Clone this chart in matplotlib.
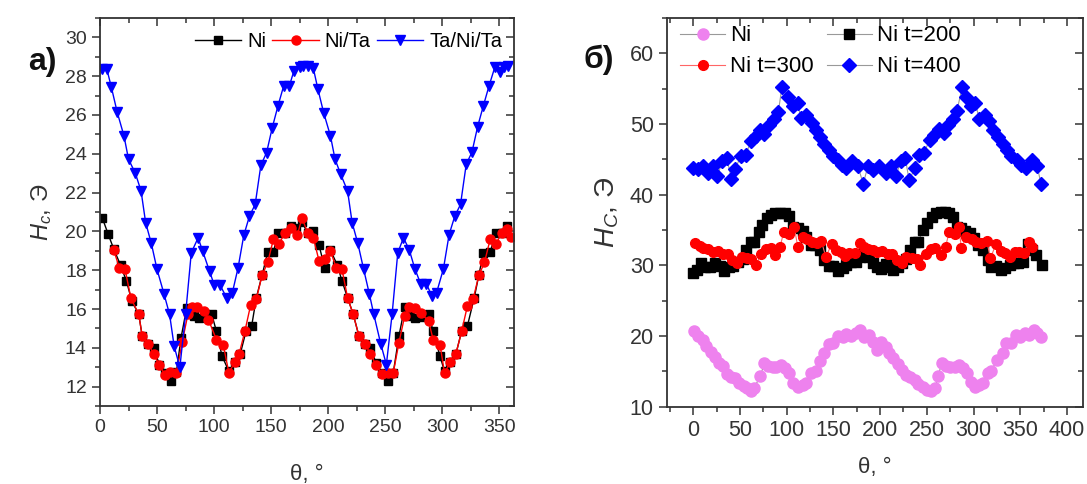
import matplotlib
matplotlib.use('Agg')
import matplotlib.pyplot as plt
from matplotlib.ticker import MultipleLocator

plt.rcParams['font.family'] = ['Liberation Sans', 'DejaVu Sans']
plt.rcParams['mathtext.fontset'] = 'custom'
plt.rcParams['mathtext.rm'] = 'Liberation Sans'
plt.rcParams['mathtext.it'] = 'Liberation Sans:italic'

# panel a) - Hc(theta) for three films
ni_x = [2, 7, 12, 18, 23, 28, 34, 37, 42, 47, 52, 57, 62, 67, 71, 76, 82, 87, 92, 98,
        102, 107, 113, 118, 123, 128, 133, 137, 142, 147, 152, 156, 162, 167, 172, 177,
        182, 187, 192, 197, 202, 208, 212, 217, 222, 227, 232, 237, 242, 247, 252, 257,
        262, 267, 272, 276, 282, 288, 292, 298, 302, 307, 312, 317, 322, 328, 332, 336,
        342, 347, 352, 357]
ni_y = [20.7, 19.88, 19.1, 18.26, 17.47, 16.4, 15.72, 14.6, 14.22, 14.0, 13.14, 12.7,
        12.31, 12.75, 14.51, 16.06, 15.63, 15.55, 15.75, 15.72, 14.86, 13.57, 12.79,
        13.26, 13.7, 14.86, 15.15, 16.58, 17.73, 18.93, 18.93, 19.93, 19.93, 20.28,
        20.19, 20.5, 19.9, 20.02, 19.28, 18.12, 19.04, 18.26, 17.47, 16.58, 15.72, 14.6,
        14.22, 14.0, 13.23, 12.7, 12.31, 12.7, 14.6, 16.1, 15.63, 15.55, 15.6, 15.72,
        14.86, 13.57, 12.79, 13.26, 13.7, 14.86, 15.12, 16.58, 17.73, 18.9, 18.93,
        19.93, 19.93, 20.28]

nita_x = [12, 17, 22, 27, 34, 37, 42, 47, 52, 57, 61, 67, 72, 77, 81, 85, 91, 95, 102,
          108, 113, 118, 122, 127, 132, 137, 142, 147, 152, 157, 162, 167, 173, 177, 182,
          187, 192, 197, 202, 207, 212, 217, 222, 227, 232, 237, 242, 247, 252, 257, 262,
          267, 271, 276, 281, 288, 292, 298, 302, 307, 312, 317, 322, 327, 332, 337, 342,
          347, 352, 357, 360]
nita_y = [19.04, 18.12, 18.04, 16.58, 15.72, 14.6, 14.22, 13.7, 13.1, 12.62, 12.74, 12.7,
          14.28, 15.72, 16.11, 16.11, 15.9, 15.46, 14.43, 14.17, 12.7, 13.26, 13.7, 14.86,
          16.2, 16.5, 17.73, 18.4, 19.6, 19.36, 19.93, 20.19, 19.8, 20.7, 19.93, 19.67,
          18.48, 18.6, 19.0, 18.12, 18.08, 16.58, 15.72, 14.6, 14.22, 13.7, 13.1, 12.65,
          12.7, 12.7, 14.26, 15.63, 16.11, 16.06, 15.8, 15.38, 14.43, 14.17, 12.7, 13.26,
          13.7, 14.86, 16.15, 16.5, 17.73, 18.4, 19.6, 19.33, 19.93, 20.1, 19.7]

tanita_x = [2, 6, 10, 15, 21, 25, 31, 36, 40, 45, 50, 56, 61, 65, 70, 75, 80, 86, 90, 96,
            100, 105, 111, 116, 121, 126, 131, 136, 141, 146, 151, 156, 161, 166, 170,
            175, 178, 182, 187, 191, 196, 202, 206, 211, 217, 221, 226, 231, 236, 240,
            246, 251, 256, 261, 266, 271, 276, 281, 286, 291, 295, 301, 306, 311, 316,
            321, 326, 331, 336, 341, 346, 351, 354, 358]
tanita_y = [28.36, 28.36, 27.42, 26.16, 24.92, 23.72, 22.99, 22.08, 20.45, 19.38, 18.04,
            16.8, 15.72, 14.08, 13.0, 15.72, 18.9, 19.67, 18.98, 17.95, 17.26, 17.26,
            16.58, 16.84, 18.12, 19.79, 20.79, 21.39, 23.41, 24.06, 25.35, 26.47, 27.5,
            27.5, 28.28, 28.45, 28.5, 28.5, 28.4, 27.33, 26.12, 24.92, 23.72, 22.94,
            22.08, 20.45, 19.38, 18.07, 16.8, 15.72, 14.22, 13.14, 15.72, 18.9, 19.67,
            19.06, 18.07, 17.31, 17.31, 16.66, 16.84, 18.07, 19.84, 20.79, 21.39, 23.46,
            24.08, 25.4, 26.47, 27.5, 28.45, 28.2, 28.45, 28.5]

# panel б) - Ni film after annealing
b_ni_x = [1, 5, 10, 14, 19, 23, 28, 32, 36, 40, 45, 49, 54, 58, 62, 65, 72, 76, 80, 85,
          89, 94, 98, 103, 107, 112, 117, 121, 126, 131, 136, 140, 145, 150, 155, 160,
          164, 169, 174, 178, 183, 188, 192, 197, 201, 206, 210, 214, 219, 223, 228, 232,
          237, 241, 246, 250, 254, 259, 262, 266, 271, 275, 280, 284, 289, 293, 297, 301,
          306, 310, 315, 319, 325, 331, 335, 340, 345, 350, 355, 359, 365, 368, 372]
b_ni_y = [20.75, 20.0, 19.35, 18.59, 17.78, 16.98, 16.23, 15.76, 14.63, 14.16, 14.0, 13.3,
          12.94, 12.6, 12.14, 12.6, 14.35, 16.13, 15.76, 15.66, 15.66, 15.85, 15.43,
          14.81, 13.4, 12.74, 13.07, 13.4, 14.72, 15.09, 16.5, 17.64, 18.86, 18.96, 20.0,
          19.9, 20.28, 20.0, 20.47, 20.85, 19.9, 20.14, 19.2, 18.02, 19.2, 18.49, 17.64,
          16.84, 16.04, 15.19, 14.48, 14.16, 13.77, 13.21, 12.74, 12.36, 12.14, 12.6,
          14.35, 16.13, 15.76, 15.66, 15.66, 15.85, 15.43, 14.81, 13.54, 12.83, 13.07,
          13.4, 14.72, 15.09, 16.6, 17.64, 18.96, 19.05, 20.14, 19.9, 20.38, 20.14, 20.85,
          20.38, 19.8]

t200_x = [0, 4, 8, 13, 18, 23, 29, 33, 38, 43, 48, 53, 57, 62, 65, 70, 74, 79, 83, 88,
          93, 98, 103, 107, 112, 117, 121, 126, 130, 136, 140, 145, 150, 155, 160, 164,
          169, 174, 179, 183, 188, 192, 197, 201, 206, 210, 214, 219, 223, 228, 232, 237,
          241, 246, 250, 255, 260, 265, 269, 274, 278, 282, 287, 291, 296, 300, 305, 310,
          315, 319, 324, 329, 334, 339, 343, 348, 353, 358, 363, 367, 373]
t200_y = [28.87, 29.33, 30.28, 29.72, 29.72, 30.38, 29.9, 29.24, 29.72, 29.9, 30.52, 30.85,
          32.17, 33.35, 33.35, 34.76, 35.71, 36.65, 37.12, 37.45, 37.45, 37.36, 36.98,
          35.47, 35.24, 34.9, 34.05, 32.88, 32.88, 32.17, 30.75, 29.9, 29.9, 29.24, 29.57,
          30.05, 30.52, 30.52, 31.23, 31.8, 31.14, 30.28, 29.72, 29.43, 30.19, 29.72,
          29.33, 29.72, 30.28, 30.85, 32.17, 33.35, 33.35, 35.0, 36.04, 36.79, 37.36,
          37.6, 37.6, 37.36, 36.89, 35.47, 35.24, 34.9, 34.52, 33.82, 32.88, 32.17, 30.75,
          29.72, 29.9, 29.33, 29.57, 30.05, 30.28, 30.38, 30.52, 33.0, 32.17, 31.47, 30.05]

t300_x = [2, 7, 11, 16, 21, 27, 32, 37, 42, 47, 52, 58, 62, 67, 73, 78, 83, 88, 93, 97,
          103, 108, 112, 117, 122, 127, 132, 137, 142, 148, 153, 158, 162, 167, 173, 178,
          183, 187, 192, 197, 202, 208, 213, 218, 223, 228, 234, 239, 243, 249, 254, 259,
          265, 270, 274, 280, 284, 287, 292, 298, 303, 308, 314, 318, 324, 329, 334, 339,
          344, 349, 354, 359, 363]
t300_y = [33.2, 32.73, 32.4, 32.26, 31.93, 32.07, 31.6, 31.6, 30.75, 30.38, 31.14, 31.0,
          30.85, 30.05, 31.6, 32.26, 32.4, 31.46, 32.64, 34.76, 34.43, 35.47, 32.55,
          33.96, 33.68, 33.35, 33.2, 33.49, 31.14, 33.0, 32.17, 31.93, 31.32, 31.79,
          31.79, 33.2, 32.64, 32.26, 32.17, 31.93, 32.07, 31.6, 31.6, 30.75, 30.38, 31.14,
          31.0, 30.85, 30.05, 31.6, 32.26, 32.4, 31.46, 32.64, 34.76, 34.43, 35.47, 32.4,
          33.96, 33.68, 33.35, 33.2, 33.49, 31.0, 33.0, 32.07, 31.79, 31.14, 31.93, 31.93,
          31.79, 33.35, 32.55]

t400_x = [0, 5, 11, 16, 21, 26, 31, 36, 41, 45, 51, 56, 62, 67, 72, 76, 81, 86, 91, 95,
          101, 107, 112, 115, 121, 127, 131, 136, 140, 145, 150, 155, 159, 164, 170, 176,
          182, 187, 192, 199, 206, 212, 217, 222, 227, 231, 237, 242, 247, 253, 258, 263,
          268, 273, 278, 282, 288, 292, 297, 302, 306, 312, 317, 321, 326, 331, 336, 340,
          346, 351, 356, 362, 368, 372]
t400_y = [43.72, 43.6, 44.07, 43.12, 44.07, 42.56, 44.69, 45.16, 42.18, 43.6, 45.5, 45.64,
          47.53, 48.24, 49.18, 48.6, 49.88, 50.68, 51.62, 55.2, 53.78, 52.56, 52.94,
          50.82, 51.29, 50.1, 49.07, 48.12, 47.18, 46.24, 45.4, 44.83, 44.22, 43.75,
          44.69, 44.07, 41.53, 44.07, 43.5, 44.07, 43.12, 44.07, 42.65, 44.69, 45.16,
          42.0, 43.72, 45.64, 45.88, 47.77, 48.48, 49.28, 48.7, 49.88, 50.68, 51.76,
          55.29, 53.78, 52.47, 52.94, 50.68, 51.29, 50.35, 49.17, 48.12, 47.18, 46.24,
          45.4, 44.83, 44.22, 43.75, 44.93, 44.07, 41.53]

fig = plt.figure(figsize=(10.87, 4.84), dpi=100)
ax1 = fig.add_axes([0.092, 0.161, 0.381, 0.802])
ax2 = fig.add_axes([0.6136, 0.160, 0.3827, 0.803])


def style_axes(ax, lsize, xmaj, xmin, ymaj, ymin):
    for s in ax.spines.values():
        s.set_linewidth(1.3)
        s.set_color('#333333')
    ax.xaxis.set_major_locator(MultipleLocator(xmaj))
    ax.xaxis.set_minor_locator(MultipleLocator(xmin))
    ax.yaxis.set_major_locator(MultipleLocator(ymaj))
    ax.yaxis.set_minor_locator(MultipleLocator(ymin))
    ax.tick_params(which='both', direction='out', labelsize=lsize,
                   colors='#333333', width=1.1)
    ax.tick_params(which='major', length=6)
    ax.tick_params(which='minor', length=3.5)
    # mirrored ticks on top/right, pointing in
    sx = ax.secondary_xaxis('top')
    sy = ax.secondary_yaxis('right')
    sx.xaxis.set_major_locator(MultipleLocator(xmaj))
    sx.xaxis.set_minor_locator(MultipleLocator(xmin))
    sy.yaxis.set_major_locator(MultipleLocator(ymaj))
    sy.yaxis.set_minor_locator(MultipleLocator(ymin))
    for sa in (sx, sy):
        sa.tick_params(which='both', direction='in', width=1.1, colors='#333333')
        sa.tick_params(which='major', length=6)
        sa.tick_params(which='minor', length=3.5)
        sa.spines[:].set_visible(False)
    sx.set_xticklabels([])
    sy.set_yticklabels([])


ax1.plot(ni_x, ni_y, color='black', marker='s', ms=6, lw=1, label='Ni')
ax1.plot(nita_x, nita_y, color='red', marker='o', ms=6.5, lw=1, label='Ni/Ta')
ax1.plot(tanita_x, tanita_y, color='blue', marker='v', ms=7, lw=1, label='Ta/Ni/Ta')
ax1.set_xlim(0, 363)
ax1.set_ylim(11, 31)
style_axes(ax1, 14, 50, 25, 2, 1)
ax1.set_xlabel('θ, °', fontsize=16, color='#333333', labelpad=20)
ax1.set_ylabel(r'$H_c$, Э', fontsize=17, color='#333333', labelpad=8)
ax1.legend(loc='upper right', bbox_to_anchor=(1.005, 1.0), ncol=3, frameon=False,
           fontsize=14.5, handlelength=2.3, handletextpad=0.3, columnspacing=0.3,
           borderaxespad=0.3)

l_ni, = ax2.plot(b_ni_x, b_ni_y, color='#999999', lw=0.8, marker='o', ms=8,
                 mfc='#EE82EE', mec='#EE82EE', label='Ni')
l_200, = ax2.plot(t200_x, t200_y, color='#999999', lw=0.8, marker='s', ms=6.5,
                  mfc='black', mec='black', label='Ni t=200')
l_300, = ax2.plot(t300_x, t300_y, color='#ff6666', lw=0.8, marker='o', ms=7,
                  mfc='red', mec='red', label='Ni t=300')
l_400, = ax2.plot(t400_x, t400_y, color='#999999', lw=0.8, marker='D', ms=7.5,
                  mfc='blue', mec='blue', label='Ni t=400')
ax2.set_xlim(-28, 417)
ax2.set_ylim(10, 65)
style_axes(ax2, 15.5, 50, 25, 10, 5)
ax2.set_xticks([0, 50, 100, 150, 200, 250, 300, 350, 400])
ax2.set_xlabel('θ, °', fontsize=16, color='#333333', labelpad=12)
ax2.set_ylabel(r'$H_C$, Э', fontsize=20, color='#333333', labelpad=6)
ax2.legend(handles=[l_ni, l_300, l_200, l_400], loc='upper left',
           bbox_to_anchor=(0.0, 1.015), ncol=2, frameon=False,
           fontsize=16, handlelength=2.0, handletextpad=0.25, columnspacing=0.6,
           borderaxespad=0.2, labelspacing=0.45)

fig.text(0.026, 0.855, 'a)', fontsize=23, fontweight='bold', color='#111111')
fig.text(0.537, 0.86, 'б)', fontsize=23, fontweight='bold', color='#111111')

fig.savefig('out.png', dpi=100)
